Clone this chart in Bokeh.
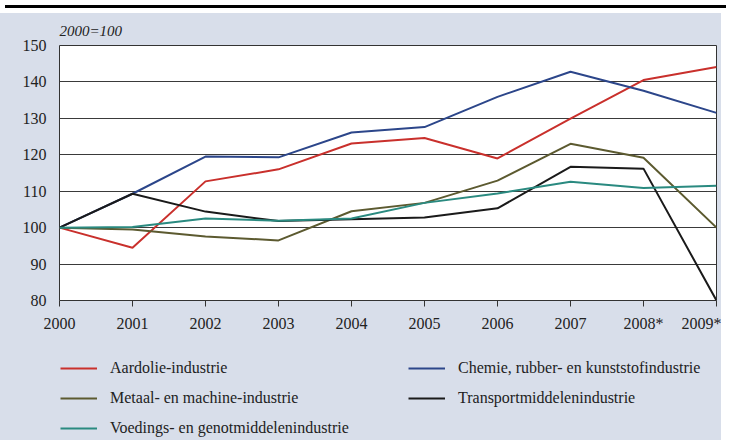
from bokeh.plotting import figure
from bokeh.models import Range1d, FixedTicker, Legend, LegendItem, Div
from bokeh.layouts import column
from bokeh.embed import file_html
from bokeh.resources import INLINE

years = ["2000", "2001", "2002", "2003", "2004", "2005", "2006", "2007", "2008*", "2009*"]
aardolie = [100, 94.5, 112.7, 116.0, 123.1, 124.6, 119.0, 129.9, 140.5, 144.1]
chemie = [100, 109.3, 119.5, 119.3, 126.1, 127.6, 135.9, 142.8, 137.6, 131.5]
metaal = [100, 99.5, 97.6, 96.5, 104.5, 106.8, 112.9, 123.0, 119.2, 100.0]
transport = [100, 109.3, 104.4, 101.8, 102.3, 102.8, 105.3, 116.7, 116.2, 80.0]
voedings = [100, 100.2, 102.5, 101.9, 102.5, 106.8, 109.4, 112.6, 110.9, 111.5]
y_ticks = [80, 90, 100, 110, 120, 130, 140, 150]

series = [
    ("Aardolie-industrie", aardolie, "#c9302c"),
    ("Chemie, rubber- en kunststofindustrie", chemie, "#2c468a"),
    ("Metaal- en machine-industrie", metaal, "#5c5a30"),
    ("Transportmiddelenindustrie", transport, "#1a1a1a"),
    ("Voedings- en genotmiddelenindustrie", voedings, "#2a8a80"),
]

PANEL = "#d8deea"
SERIF = "Liberation Serif"
W = 721
LEFT = 59

xs = list(range(len(years)))

p = figure(width=W, height=327, output_backend="svg", toolbar_location=None,
           x_range=Range1d(0, len(years) - 1), y_range=Range1d(80, 150),
           min_border_left=LEFT, min_border_right=5, min_border_top=28, min_border_bottom=40,
           styles={"background-color": PANEL})
p.border_fill_color = PANEL
p.background_fill_color = "white"
p.outline_line_color = "#333333"
p.outline_line_width = 1

p.title.text = "2000=100"
p.title.text_font = SERIF
p.title.text_font_style = "italic"
p.title.text_font_size = "15px"
p.title.text_color = "#222222"
p.title.align = "left"
p.title.standoff = 14

p.xgrid.visible = False
p.ygrid.grid_line_color = "#3a3a3a"
p.ygrid.grid_line_width = 1
p.ygrid.ticker = FixedTicker(ticks=y_ticks)

p.xaxis.ticker = FixedTicker(ticks=xs)
p.xaxis.major_label_overrides = {i: y for i, y in enumerate(years)}
p.xaxis.axis_line_color = None
p.xaxis.major_tick_out = 6
p.xaxis.major_tick_in = 0
p.xaxis.major_tick_line_color = "#333333"
p.xaxis.minor_tick_line_color = None
p.xaxis.major_label_standoff = 8
p.xaxis.major_label_text_font = SERIF
p.xaxis.major_label_text_font_size = "16px"
p.xaxis.major_label_text_color = "#222222"

p.yaxis.ticker = FixedTicker(ticks=y_ticks)
p.yaxis.axis_line_color = None
p.yaxis.major_tick_line_color = None
p.yaxis.minor_tick_line_color = None
p.yaxis.major_label_standoff = 7
p.yaxis.major_label_text_font = SERIF
p.yaxis.major_label_text_font_size = "16px"
p.yaxis.major_label_text_color = "#222222"

for name, vals, color in series:
    p.line(xs, vals, line_color=color, line_width=2)

# legend panel (hidden copies of the series feed the legend glyphs)
q = figure(width=W, height=100, output_backend="svg", toolbar_location=None,
           x_range=Range1d(0, 1), y_range=Range1d(0, 1),
           x_axis_type=None, y_axis_type=None,
           min_border_left=LEFT, min_border_right=0, min_border_top=0, min_border_bottom=0,
           styles={"background-color": PANEL})
q.background_fill_color = PANEL
q.border_fill_color = PANEL
q.outline_line_color = None
q.grid.visible = False

leg_r = {}
for name, vals, color in series:
    leg_r[name] = q.line(xs, vals, line_color=color, line_width=2, visible=False)


def make_legend(names, loc):
    lg = Legend(items=[LegendItem(label=n, renderers=[leg_r[n]]) for n in names],
                location=loc, orientation="vertical")
    lg.background_fill_alpha = 0
    lg.border_line_color = None
    lg.inactive_fill_alpha = 0
    lg.padding = 0
    lg.margin = 0
    lg.spacing = 10
    lg.glyph_width = 37
    lg.glyph_height = 20
    lg.label_height = 20
    lg.label_standoff = 13
    lg.label_text_font = SERIF
    lg.label_text_font_size = "16px"
    lg.label_text_color = "#222222"
    return lg


q.add_layout(make_legend([series[0][0], series[2][0], series[4][0]], (60 - LEFT, 2)), "center")
q.add_layout(make_legend([series[1][0], series[3][0]], (408 - LEFT, 32)), "center")

bar = Div(width=W, height=3, styles={"background-color": "black"})
layout = column(bar, p, q, spacing=0)

open("out.html", "w").write(file_html(layout, INLINE))
